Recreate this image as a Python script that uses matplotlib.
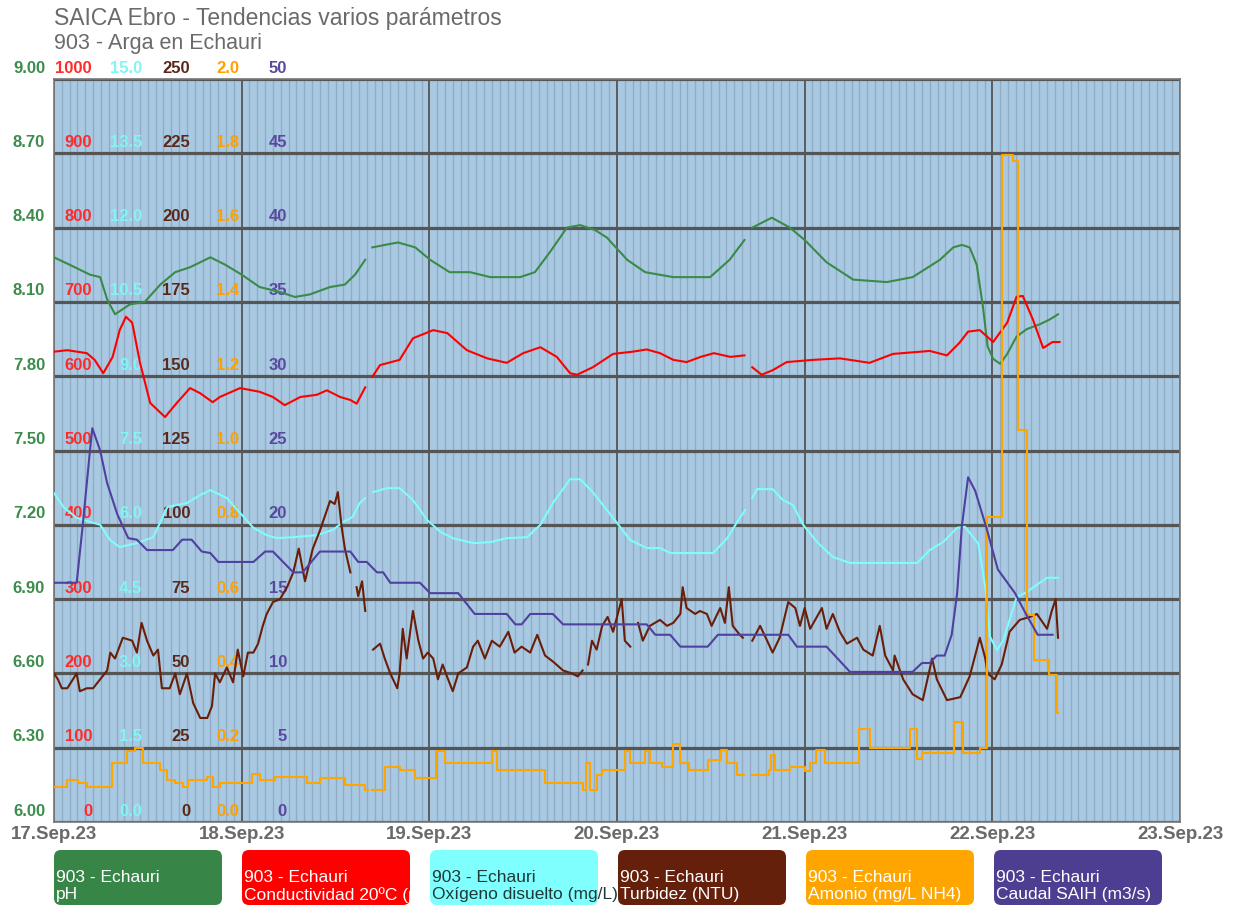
import numpy as np
import pandas as pd
import matplotlib
matplotlib.use('Agg')
import matplotlib.pyplot as plt
import matplotlib.dates as mdates
import matplotlib.transforms as mtransforms
from matplotlib.patches import FancyBboxPatch

plt.rcParams['font.family'] = ['Liberation Sans', 'DejaVu Sans']

# --- datos (horas desde 17.Sep.23 00:00) ---
ph_t = [0, 2.0, 4.6, 5.9, 6.8, 7.8, 9.7, 11.6, 13.6, 15.5, 17.4, 20.0, 21.9, 24.0, 26.3, 28.9,
        30.8, 32.7, 35.3, 37.2, 38.5, 39.8, 40.2, 40.7, 42.3, 44.0, 46.2, 48.1, 50.6, 53.2, 55.8,
        59.6, 61.5, 63.4, 65.6, 67.3, 69.2, 70.7, 73.3, 75.6, 79.2, 83.9, 86.4, 88.3, 88.8, 89.3,
        91.8, 94.1, 96.0, 98.8, 102.2, 106.5, 109.8, 113.3, 115.0, 116.1, 117.1, 118.0, 118.8,
        119.4, 120.1, 121.0, 121.9, 123.1, 124.4, 126.1, 127.4, 128.4]
ph_v = [8.28, 8.25, 8.21, 8.20, 8.11, 8.05, 8.09, 8.10, 8.17, 8.22, 8.24, 8.28, 8.25, 8.21, 8.16, 8.14,
        8.12, 8.13, 8.16, 8.17, 8.21, 8.27, np.nan, 8.32, 8.33, 8.34, 8.32, 8.27, 8.22, 8.22, 8.20,
        8.20, 8.22, 8.30, 8.40, 8.41, 8.39, 8.36, 8.27, 8.22, 8.20, 8.20, 8.27, 8.35, np.nan, 8.40,
        8.44, 8.40, 8.35, 8.26, 8.19, 8.18, 8.20, 8.27, 8.32, 8.33, 8.32, 8.25, 8.08,
        7.92, 7.87, 7.85, 7.89, 7.96, 7.99, 8.01, 8.03, 8.05]

cond_t = [0, 1.7, 4.2, 5.2, 6.3, 7.5, 8.4, 9.2, 10.0, 11.0, 12.3, 14.2, 15.7, 17.4, 18.7, 20.3,
          21.2, 23.8, 26.3, 28.0, 29.5, 31.5, 33.6, 34.9, 36.6, 37.9, 38.7, 39.8, 40.2, 40.7, 41.7,
          44.2, 45.9, 48.5, 50.3, 52.8, 55.4, 57.9, 60.0, 62.2, 64.3, 66.0, 66.9, 68.9, 71.5, 74.0,
          75.8, 77.5, 79.2, 80.9, 82.7, 84.4, 86.5, 88.3, 88.8, 89.3, 90.5, 91.9, 93.7, 97.1,
          100.5, 104.3, 107.3, 112.0, 114.2, 115.8, 116.9, 118.4, 120.1, 121.9, 123.1, 123.9,
          125.2, 126.5, 127.7, 128.6]
cond_v = [633, 635, 631, 622, 604, 626, 662, 680, 672, 618, 564, 545, 564, 584, 577, 565,
          572, 584, 579, 572, 561, 572, 575, 581, 572, 568, 563, 585, np.nan, 599, 615,
          622, 651, 662, 658, 635, 624, 618, 631, 639, 626, 604, 602, 612, 630, 633,
          636, 631, 622, 619, 626, 631, 626, 628, np.nan, 612, 602, 608, 619, 622,
          624, 618, 630, 634, 628, 645, 660, 662, 646, 672, 707, 708,
          676, 638, 646, 646]

oxi_t = [0, 1.2, 2.9, 5.9, 7.2, 8.4, 10.6, 12.7, 14.5, 17.0, 18.7, 20.0, 22.1, 23.8, 25.5, 27.2,
         28.5, 30.6, 33.6, 35.7, 37.0, 38.2, 39.1, 39.8, 40.2, 40.8, 42.6, 44.2, 45.9, 47.7, 49.4,
         51.0, 53.6, 55.8, 57.9, 60.5, 62.2, 63.8, 66.0, 67.3, 68.9, 72.0, 73.7, 75.8, 77.5, 78.8,
         84.3, 86.1, 87.3, 88.4, 88.8, 89.3, 89.9, 91.9, 93.2, 94.5, 95.8, 97.6, 99.6, 101.8,
         110.4, 112.0, 113.7, 115.5, 116.5, 118.2, 119.1, 119.7, 120.6, 121.4, 123.1, 124.4,
         125.7, 127.0, 128.4]
oxi_v = [6.64, 6.36, 6.14, 6.00, 5.69, 5.55, 5.63, 5.75, 6.36, 6.44, 6.60, 6.70, 6.54, 6.24, 5.94, 5.79,
         5.73, 5.75, 5.79, 5.90, 6.06, 6.16, 6.44, 6.54, np.nan, 6.66, 6.74, 6.74, 6.50, 6.10, 5.86,
         5.73, 5.63, 5.65, 5.73, 5.75, 6.00, 6.44, 6.92, 6.92, 6.66, 6.04, 5.69, 5.53, 5.53, 5.43,
         5.43, 5.73, 6.04, 6.30, np.nan, 6.54, 6.72, 6.72, 6.50, 6.40, 6.00, 5.65, 5.35, 5.23,
         5.23, 5.49, 5.65, 5.94, 5.96, 5.62, 4.74, 3.74, 3.47, 3.67, 4.54, 4.64,
         4.79, 4.93, 4.93]

turb_t = [0, 0.5, 1.0, 1.7, 2.9, 3.3, 4.2, 5.0, 5.9, 6.8, 7.2, 7.8, 8.8, 10.0, 10.6, 11.2, 11.9,
          12.7, 13.3, 13.8, 14.8, 15.5, 16.1, 17.0, 17.8, 18.7, 19.6, 20.2, 20.6, 21.2, 22.1, 22.9,
          23.5, 24.2, 24.8, 25.5, 26.1, 26.7, 27.2, 28.0, 28.9, 29.8, 30.6, 31.3, 32.1, 33.1, 34.0,
          34.9, 35.3, 35.9, 36.3, 36.8, 37.2, 37.9, 38.3, 38.7, 38.9, 39.4, 39.8, 40.2, 40.8, 41.7,
          42.3, 43.0, 43.9, 44.2, 44.6, 45.1, 45.9, 46.6, 47.2, 47.8, 48.5, 49.1, 49.7, 50.4, 51.0,
          51.7, 52.8, 53.6, 54.2, 55.1, 56.0, 57.0, 58.1, 58.9, 59.8, 60.9, 61.8, 62.8, 63.8, 65.1,
          66.2, 67.0, 67.6, 68.0, 68.3, 68.8, 69.4, 70.1, 70.8, 71.5, 72.1, 72.6, 73.0, 73.7, 74.2,
          74.7, 75.3, 76.2, 77.5, 78.4, 79.2, 80.1, 80.4, 80.9, 82.0, 82.6, 83.5, 84.1, 85.2, 85.8,
          86.3, 86.8, 87.7, 88.1, 88.7, 89.3, 90.3, 91.2, 91.9, 92.8, 93.9, 94.8, 95.4, 96.0, 96.7,
          98.2, 98.8, 99.6, 100.5, 101.4, 102.7, 103.5, 104.7, 105.6, 106.3, 107.3, 107.5, 108.6,
          109.8, 111.1, 112.3, 112.9, 114.2, 115.9, 117.1, 118.4, 119.1, 119.4, 120.3, 121.2, 122.2,
          123.5, 124.8, 125.7, 127.0, 127.6, 128.1, 128.4]
turb_v = [50, 48, 45, 45, 50, 44, 45, 45, 48, 51, 57, 55, 62, 61, 57, 67, 61,
          56, 58, 45, 45, 50, 43, 50, 40, 35, 35, 39, 50, 47, 52, 47,
          58, 49, 57, 57, 60, 66, 70, 74, 75, 79, 84, 92, 81, 92, 98,
          105, 108, 107, 111, 99, 92, 84, np.nan, 79, 76, 81, 71, np.nan, 58, 60,
          55, 50, 45, 50, 65, 55, 71, 61, 55, 57, 55, 48, 53, 48, 44,
          50, 52, 59, 61, 55, 61, 59, 64, 57, 59, 57, 63, 56, 54, 51,
          50, 49, 51, np.nan, 53, 61, 58, 66, 69, 64, 70, 75, 61, 59, np.nan,
          67, 61, 66, 68, 66, 67, 70, 79, 72, 70, 71, 70, 66, 72, 67,
          79, 66, 63, 62, np.nan, 61, 66, 61, 57, 62, 74, 72, 66, 72, 65,
          72, 65, 70, 64, 60, 62, 58, 56, 66, 56, 51, 56, 48,
          43, 41, 55, 48, 41, 42, 49, 62, 55, 50, 48, 53, 64,
          68, 69, 70, 65, 71, 75, 62]

nh4_t = [0, 1.7, 3.1, 4.2, 7.4, 9.3, 10.4, 11.4, 13.6, 14.5, 15.5, 16.5, 17.1, 19.6, 20.3, 21.2,
         25.3, 26.3, 28.3, 32.4, 34.0, 37.2, 39.8, 40.2, 40.7, 42.3, 44.2, 46.2, 48.8, 50.0, 56.0,
         56.6, 62.8, 67.6, 68.0, 68.5, 69.5, 70.1, 73.0, 73.6, 75.6, 76.2, 77.7, 79.2, 80.0, 81.2,
         83.6, 85.3, 86.1, 87.3, 88.3, 89.3, 91.4, 91.7, 92.2, 94.1, 96.1, 96.7, 97.5, 98.6,
         100.5, 103.0, 104.3, 109.5, 110.4, 111.0, 115.1, 116.2, 118.4, 119.3, 121.3, 122.6,
         123.3, 124.4, 125.3, 127.2, 128.3, 128.4]
nh4_v = [0.094, 0.113, 0.105, 0.094, 0.16, 0.19, 0.20, 0.16, 0.14, 0.113, 0.105, 0.094, 0.113, 0.12, 0.094, 0.105,
         0.13, 0.113, 0.12, 0.105, 0.118, 0.10, 0.086, np.nan, 0.086, 0.148, 0.14, 0.118, 0.19, 0.16, 0.19,
         0.14, 0.105, 0.086, 0.16, 0.086, 0.127, 0.14, 0.19, 0.16, 0.19, 0.16, 0.148, 0.21, 0.16, 0.14,
         0.167, 0.194, 0.16, 0.127, np.nan, 0.127, 0.14, 0.18, 0.14, 0.148, 0.137, 0.16, 0.194, 0.16,
         0.16, 0.25, 0.20, 0.25, 0.17, 0.186, 0.27, 0.186, 0.20, 0.82, 1.795, 1.78,
         1.055, 0.557, 0.436, 0.396, 0.293, 0.293]

caudal_t = [0, 2.9, 3.7, 4.6, 4.9, 5.9, 6.8, 8.1, 9.5, 10.6, 11.9, 15.2, 16.4, 17.6, 18.9, 20.0,
            21.0, 25.5, 27.0, 28.0, 29.3, 30.6, 31.8, 34.0, 37.9, 38.9, 40.0, 41.3, 42.1, 43.0,
            46.8, 48.1, 51.7, 53.8, 57.9, 59.0, 59.8, 60.9, 63.8, 65.1, 75.8, 76.9, 78.8, 80.1,
            83.6, 84.9, 93.9, 95.0, 98.8, 101.8, 109.8, 111.0, 112.0, 112.9, 113.9, 114.8, 115.5,
            116.1, 116.9, 117.8, 119.3, 120.7, 122.9, 124.4, 125.8, 127.7]
caudal_v = [16.1, 16.1, 20.1, 25.0, 26.5, 25.0, 22.8, 20.7, 19.1, 19.0, 18.3, 18.3, 19.0, 19.0, 18.2, 18.1,
            17.5, 17.5, 18.2, 18.2, 17.5, 16.8, 16.8, 18.2, 18.2, 17.5, 17.5, 16.8, 16.8, 16.1,
            16.1, 15.4, 15.4, 14.0, 14.0, 13.3, 13.3, 14.0, 14.0, 13.3, 13.3, 12.6, 12.6, 11.8,
            11.8, 12.6, 12.6, 11.8, 11.8, 10.1, 10.1, 10.7, 10.7, 11.2, 11.2, 12.6, 15.4,
            19.9, 23.2, 22.3, 19.7, 17.0, 15.4, 13.9, 12.6, 12.6]

# escalas: (nombre, maximo, formato, color etiquetas)
escalas = [
    ('cond', 1000, '{:.0f}', '#ff2a2a'),
    ('oxi', 15.0, '{:.1f}', '#7ff5f5'),
    ('turb', 250, '{:.0f}', '#5a2818'),
    ('nh4', 2.0, '{:.1f}', '#ffa000'),
    ('caudal', 50, '{:.0f}', '#5a48a0'),
]
leyenda = [
    ('pH', '#378547', 'white'),
    ('Conductividad 20ºC (µ', '#ff0000', 'white'),
    ('Oxígeno disuelto (mg/L)', '#80ffff', '#203838'),
    ('Turbidez (NTU)', '#64200a', 'white'),
    ('Amonio (mg/L NH4)', '#ffa500', 'white'),
    ('Caudal SAIH (m3/s)', '#4e3e92', 'white'),
]


def ts(h):
    return pd.Timestamp('2023-09-17') + pd.to_timedelta(np.asarray(h, float), unit='h')


W, H = 1243, 908
fig = plt.figure(figsize=(W / 100, H / 100), dpi=100)
ax = fig.add_axes([54 / W, 1 - 822 / H, 1126 / W, 743 / H])
ax.set_facecolor('#a9c9e2')
ax.set_xlim(ts([0])[0], ts([144])[0])
ax.set_ylim(6, 9)
ax.set_yticks(np.arange(6, 9.01, 0.3))
ax.xaxis.set_major_locator(mdates.DayLocator())
ax.xaxis.set_major_formatter(mdates.DateFormatter('%d.%b.%y'))
ax.xaxis.set_minor_locator(mdates.HourLocator())
ax.tick_params(axis='y', length=0, labelleft=False)
ax.tick_params(axis='x', which='both', length=0, pad=3)
for lab in ax.get_xticklabels():
    lab.set_fontsize(13.5)
    lab.set_fontweight('bold')
    lab.set_color('#6a6a6a')
ax.grid(axis='x', which='minor', color='#90abc4', lw=1.0)
ax.grid(axis='x', which='major', color='#555555', lw=1.3)
ax.grid(axis='y', color='#555555', lw=2.3)
ax.set_axisbelow(True)
for s in ax.spines.values():
    s.set_color('#777777')
    s.set_linewidth(1.2)

# etiquetas de pH fuera, a la izquierda
tr_ph = mtransforms.offset_copy(mtransforms.blended_transform_factory(ax.transAxes, ax.transData),
                                fig=fig, x=-9, y=11, units='dots')
for v in np.arange(6, 9.01, 0.3):
    ax.text(0, v, '{:.2f}'.format(v), transform=tr_ph, ha='right', va='center',
            fontsize=12, fontweight='bold', color='#3c8c4c', clip_on=False)

# ejes gemelos para cada escala
ejes = {}
xcol = [92, 142, 190, 239, 287]
for (nombre, top, fmt, col), xp in zip(escalas, xcol):
    a = ax.twinx()
    a.set_ylim(0, top)
    a.axis('off')
    ejes[nombre] = a
    tr = mtransforms.offset_copy(mtransforms.blended_transform_factory(ax.transAxes, a.transData),
                                 fig=fig, x=0, y=11, units='dots')
    for i in range(11):
        v = top * i / 10
        ax.text((xp - 54) / 1126, v, fmt.format(v), transform=tr, ha='right', va='center',
                fontsize=12, fontweight='bold', color=col, clip_on=False, zorder=1)

lw = 1.5
ax.plot(ts(ph_t), ph_v, color='#3a8a48', lw=lw, zorder=3)
ejes['cond'].plot(ts(cond_t), cond_v, color='#ff0000', lw=lw)
ejes['oxi'].plot(ts(oxi_t), oxi_v, color='#7ffcfc', lw=lw)
ejes['caudal'].plot(ts(caudal_t), caudal_v, color='#5040a0', lw=lw)
ejes['turb'].plot(ts(turb_t), turb_v, color='#6a1e08', lw=lw)
ejes['nh4'].plot(ts(nh4_t), nh4_v, color='#ffa500', lw=lw, drawstyle='steps-post')

# titulos
fig.text(54 / W, 1 - 18 / H, 'SAICA Ebro - Tendencias varios parámetros', fontsize=16.5,
         color='#6a6a6a', va='center')
fig.text(54 / W, 1 - 44 / H, '903 - Arga en Echauri', fontsize=15.5, color='#6a6a6a', va='center')

# leyenda en cajas
ident = mtransforms.IdentityTransform()
for i, (nombre, fc, tc) in enumerate(leyenda):
    x0 = 54 + 188 * i
    box = FancyBboxPatch((x0, 3), 168, 55, boxstyle='round,pad=0,rounding_size=7',
                         facecolor=fc, edgecolor='none', transform=ident)
    fig.add_artist(box)
    fig.text(x0 + 2, 30, '903 - Echauri', transform=ident, fontsize=12.5, color=tc, va='center')
    t2 = fig.text(x0 + 2, 13, nombre, transform=ident, fontsize=12.5, color=tc, va='center')
    if nombre.startswith('Conductividad'):
        t2.set_clip_path(box)

fig.savefig('out.png', dpi=100)
